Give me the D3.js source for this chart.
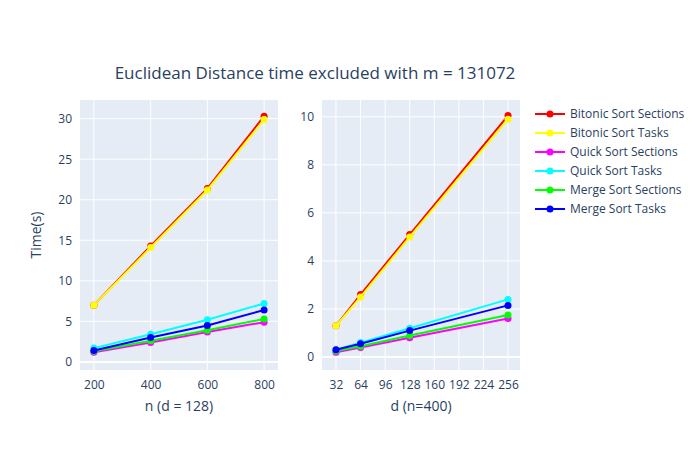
<html>
<head>
<meta charset='utf-8' />
</head>
<body style='padding: 0; margin: 0;'>
<svg width='700' height='450' style='background-color: white; font-family: "Open Sans", Arial, sans-serif'></svg>
<script src="https://d3js.org/d3.v7.min.js"></script>
<script>
// data
const names = ['Bitonic Sort Sections', 'Bitonic Sort Tasks', 'Quick Sort Sections', 'Quick Sort Tasks', 'Merge Sort Sections', 'Merge Sort Tasks'];
const colors = ['red', 'yellow', 'magenta', 'cyan', 'lime', 'blue'];
const nValues = [200, 400, 600, 800];
const dValues = [32, 64, 128, 256];
const timesN = [
  [7.0, 14.3, 21.4, 30.3],
  [7.0, 14.1, 21.2, 29.9],
  [1.2, 2.4, 3.7, 4.9],
  [1.7, 3.4, 5.2, 7.2],
  [1.3, 2.6, 3.9, 5.3],
  [1.4, 3.0, 4.5, 6.4]
];
const timesD = [
  [1.3, 2.6, 5.1, 10.05],
  [1.3, 2.5, 5.0, 9.9],
  [0.2, 0.4, 0.8, 1.6],
  [0.3, 0.6, 1.2, 2.4],
  [0.25, 0.45, 0.9, 1.75],
  [0.3, 0.55, 1.1, 2.15]
];
const nTicks = [200, 400, 600, 800];
const dTicks = [32, 64, 96, 128, 160, 192, 224, 256];
const yTicksN = [0, 5, 10, 15, 20, 25, 30];
const yTicksD = [0, 2, 4, 6, 8, 10];

const svg = d3.select('svg');
const plotTop = 100, plotBottom = 370;
const txt = '#2a3f5f';

function panel(x0, x1, xDom, yDom, xs, xTicks, yTicks, data, xTitle) {
  const x = d3.scaleLinear().domain(xDom).range([x0, x1]);
  const y = d3.scaleLinear().domain(yDom).range([plotBottom, plotTop]);
  const g = svg.append('g');
  g.append('rect').attr('x', x0).attr('y', plotTop).attr('width', x1 - x0).attr('height', plotBottom - plotTop).attr('fill', '#e5ecf6');
  g.selectAll('.vx').data(xTicks).enter().append('line')
    .attr('x1', d => x(d)).attr('x2', d => x(d)).attr('y1', plotTop).attr('y2', plotBottom)
    .attr('stroke', 'white').attr('stroke-width', 1);
  g.selectAll('.hy').data(yTicks).enter().append('line')
    .attr('y1', d => y(d)).attr('y2', d => y(d)).attr('x1', x0).attr('x2', x1)
    .attr('stroke', 'white').attr('stroke-width', d => d === 0 ? 2 : 1);
  const xa = g.append('g').attr('transform', `translate(0,${plotBottom})`)
    .call(d3.axisBottom(x).tickValues(xTicks).tickSize(0).tickPadding(10));
  const ya = g.append('g').attr('transform', `translate(${x0},0)`)
    .call(d3.axisLeft(y).tickValues(yTicks).tickSize(0).tickPadding(8));
  [xa, ya].forEach(a => {
    a.select('.domain').remove();
    a.selectAll('text').attr('fill', txt).style('font-size', '12px').style('font-family', '"Open Sans", Arial, sans-serif');
  });
  const line = d3.line().x((d, i) => x(xs[i])).y(d => y(d));
  data.forEach((s, k) => {
    g.append('path').datum(s).attr('fill', 'none').attr('stroke', colors[k]).attr('stroke-width', 2).attr('d', line);
    g.selectAll('.p' + k).data(s).enter().append('circle')
      .attr('cx', (d, i) => x(xs[i])).attr('cy', d => y(d)).attr('r', 3.5).attr('fill', colors[k]);
  });
  g.append('text').attr('x', (x0 + x1) / 2).attr('y', 411).attr('text-anchor', 'middle')
    .attr('fill', txt).style('font-size', '14px').text(xTitle);
}

panel(80, 278, [151, 849], [-1, 32.3], nValues, nTicks, yTicksN, timesN, 'n (d = 128)');
panel(322, 520, [13.8, 271.6], [-0.54, 10.7], dValues, dTicks, yTicksD, timesD, 'd (n=400)');

svg.append('text').attr('x', 315).attr('y', 79).attr('text-anchor', 'middle')
  .attr('fill', txt).style('font-size', '17px').text('Euclidean Distance time excluded with m = 131072');
svg.append('text').attr('transform', 'translate(41,235) rotate(-90)').attr('text-anchor', 'middle')
  .attr('fill', txt).style('font-size', '14px').text('Time(s)');

const leg = svg.append('g').selectAll('g').data(names).enter().append('g')
  .attr('transform', (d, i) => `translate(535,${114 + i * 19})`);
leg.append('line').attr('x1', 0).attr('x2', 30).attr('stroke', (d, i) => colors[i]).attr('stroke-width', 2);
leg.append('circle').attr('cx', 15).attr('r', 3.5).attr('fill', (d, i) => colors[i]);
leg.append('text').attr('x', 35).attr('y', 4).attr('fill', txt).style('font-size', '12px').text(d => d);
</script>
</body>
</html>
